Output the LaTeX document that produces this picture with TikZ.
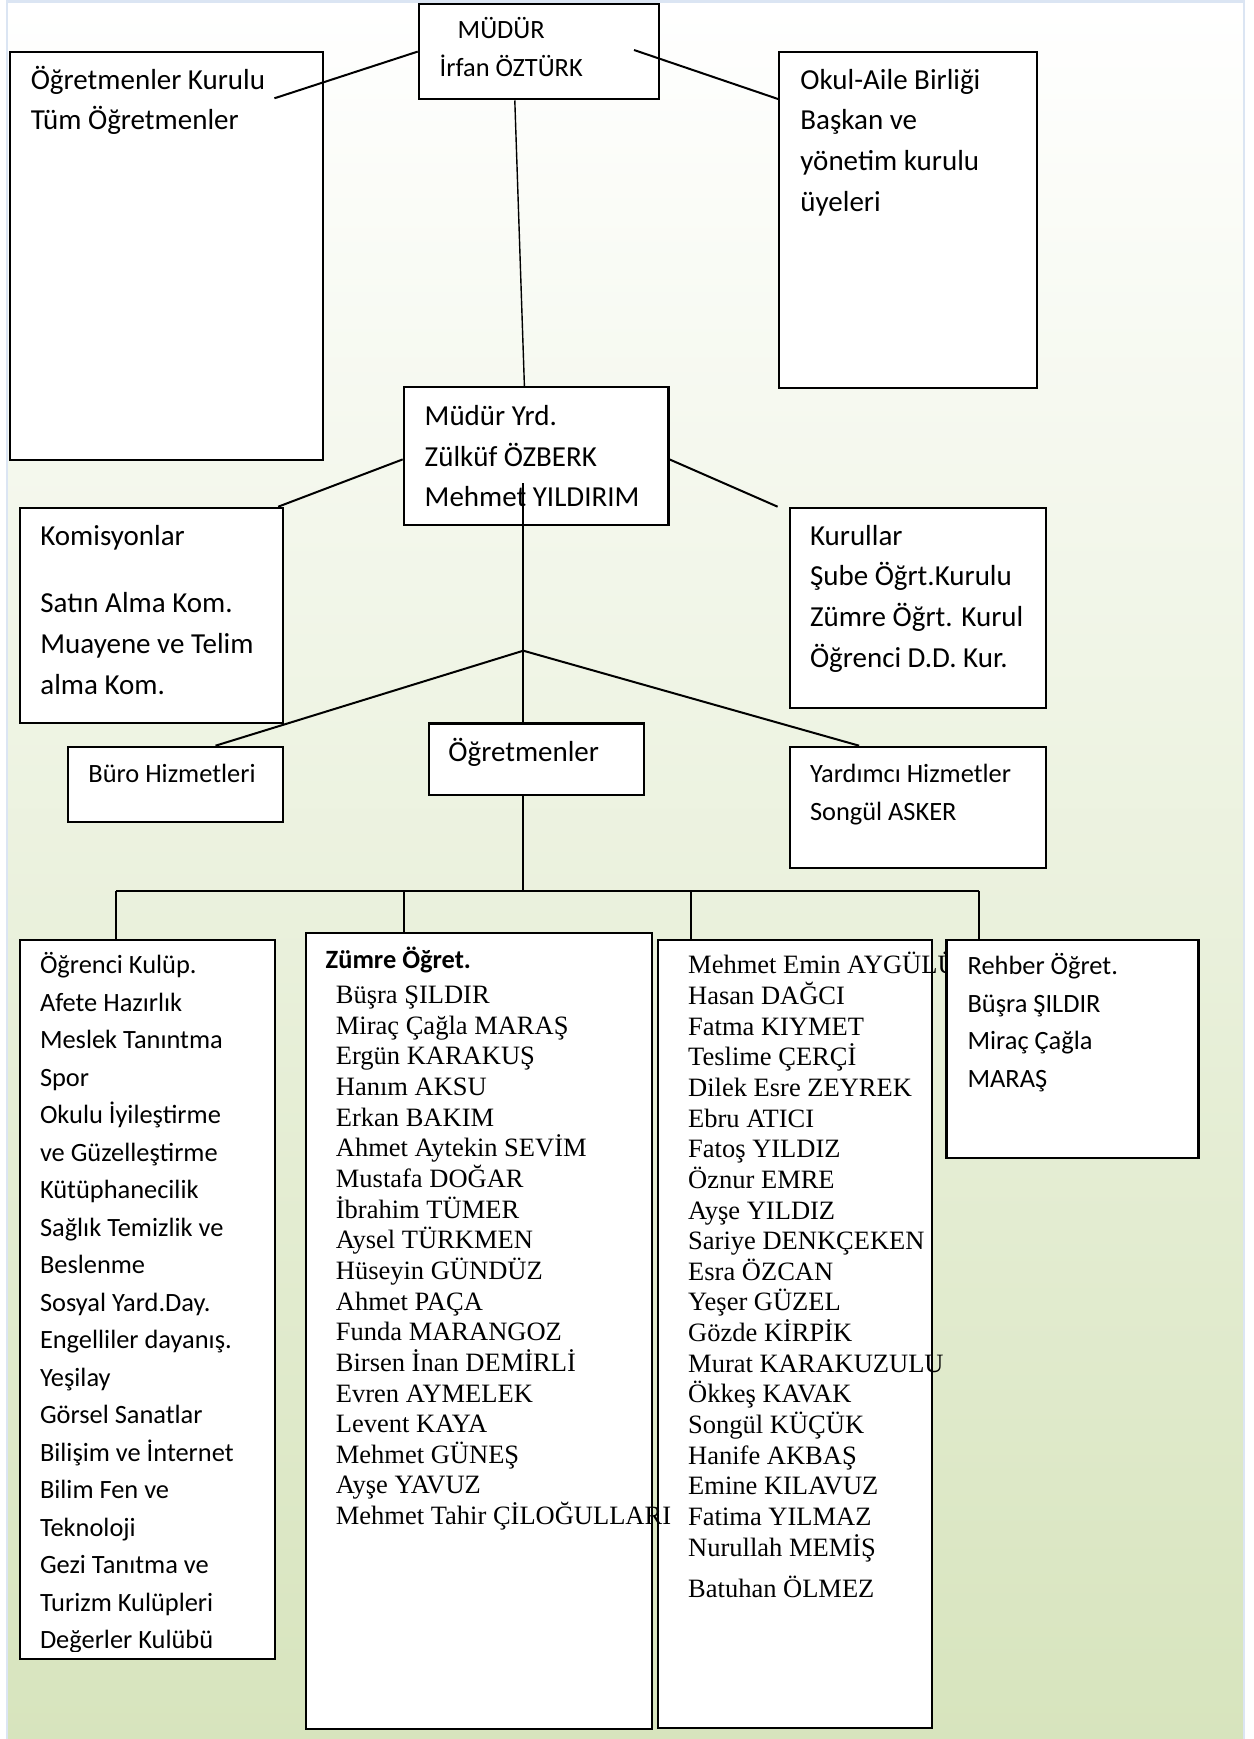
\documentclass[tikz,border=0pt]{standalone}
\usepackage{fontspec}
\setmainfont{Carlito}
\newfontfamily\timesfont{Liberation Serif}
\definecolor{zemin}{RGB}{215,228,189}
\definecolor{cerceve}{RGB}{219,229,243}
\tikzset{
  kutu/.style={draw, fill=white, line width=1.1pt, inner sep=0pt, anchor=north west},
  yazi/.style={anchor=base west, inner sep=0pt, align=left, font=\fontsize{14.5}{20.35}\selectfont},
  kucukyazi/.style={anchor=base west, inner sep=0pt, align=left, font=\fontsize{13.2}{18.75}\selectfont},
  isimyazi/.style={anchor=base west, inner sep=0pt, align=left, font=\timesfont\fontsize{13.25}{15.325}\selectfont},
  hat/.style={line width=1pt}
}
\lineskiplimit=-20pt
\begin{document}
\begin{tikzpicture}[x=0.5pt, y=-0.5pt]
\useasboundingbox (0,0) rectangle (1253,1739);
%zemin
\shade[top color=white, bottom color=zemin] (7,1.5) rectangle (1244,1745);
\draw[cerceve, line width=1.25pt] (7,1745) -- (7,1.5) -- (1244,1.5) -- (1244,1745);
%kutular
\node[kutu, minimum width=120pt, minimum height=47.8pt] (mudur) at (417.7,2.7) {};
\node[kutu, minimum width=156.3pt, minimum height=204.15pt] (kurulu) at (9,50.7) {};
\node[kutu, minimum width=129pt, minimum height=168pt] (okul) at (778,50.7) {};
\node[kutu, minimum width=132.3pt, minimum height=69pt] (yrd) at (402.7,386) {};
\node[kutu, minimum width=131.5pt, minimum height=107.65pt] (komisyon) at (19,506.7) {};
\node[kutu, minimum width=128pt, minimum height=100.15pt] (kurullar) at (789,506.7) {};
\node[kutu, minimum width=107.5pt, minimum height=37.65pt] (buro) at (67,745.7) {};
\node[kutu, minimum width=107.5pt, minimum height=35.85pt] (ogretmen) at (428,722.3) {};
\node[kutu, minimum width=128pt, minimum height=60.5pt] (yardimci) at (789,745.7) {};
\node[kutu, minimum width=127.15pt, minimum height=359.6pt] (kulup) at (19.2,938.8) {};
\node[kutu, minimum width=172.85pt, minimum height=398.25pt] (zumre) at (305,931.5) {};
\node[kutu, minimum width=136.95pt, minimum height=394pt] (isimler) at (657,938.8) {};
% (base = son satir)
\node[isimyazi] (t-isimler) at (687.8,1597.3) {Mehmet Emin AYGÜLÜ\\Hasan DAĞCI\\Fatma KIYMET\\Teslime ÇERÇİ\\Dilek Esre ZEYREK\\Ebru ATICI\\Fatoş YILDIZ\\Öznur EMRE\\Ayşe YILDIZ\\Sariye DENKÇEKEN\\Esra ÖZCAN\\Yeşer GÜZEL\\Gözde KİRPİK\\Murat KARAKUZULU\\Ökkeş KAVAK\\Songül KÜÇÜK\\Hanife AKBAŞ\\Emine KILAVUZ\\Fatima YILMAZ\\Nurullah MEMİŞ\\[5.25pt]Batuhan ÖLMEZ};
\node[kutu, minimum width=125.95pt, minimum height=108.9pt] (rehber) at (945.4,938.8) {};
%baglantilar
\coordinate (kurulu-ic) at (274.4,98.3);
\coordinate (mudur-ic) at (634,50);
\coordinate (okul-sol) at (778,99);
\coordinate (yrd-ic) at (523.3,483.3);
\coordinate (dal) at (523.3,650.7);
\coordinate (b1) at (116,890.7);
\coordinate (b2) at (404,890.7);
\coordinate (b3) at (691,890.7);
\coordinate (b4) at (979,890.7);
\draw[hat] (kurulu-ic) -- (mudur.west);
\draw[hat] (mudur-ic) -- (okul-sol);
\draw[hat, line width=0.7pt] ([xshift=-12pt]mudur.south) -- ([xshift=-5.85pt]yrd.north);
\draw[hat] ([yshift=-1.65pt]yrd.west) -- ([xshift=-3pt]komisyon.north east);
\draw[hat] ([yshift=-1.65pt]yrd.east) -- ([xshift=-5.7pt]kurullar.north west);
\draw[hat] (yrd-ic) -- (dal) -- (dal |- ogretmen.north);
\draw[hat] ([xshift=19.95pt]buro.north) -- (dal) -- ([xshift=-29.5pt]yardimci.north);
\draw[hat] (dal |- ogretmen.south) -- (dal |- b1);
\draw[hat] (b1) -- (b4);
\foreach \b/\k in {b1/kulup, b2/zumre, b3/isimler, b4/rehber}
  \draw[hat] (\b) -- (\b |- \k.north);
%yazilar (base = son satir)
\node[kucukyazi] (t-mudur) at (439.3,76.3) {\hspace*{9pt}MÜDÜR\\İrfan ÖZTÜRK};
\node[yazi] (t-kurulu) at (30.4,130) {Öğretmenler Kurulu\\Tüm Öğretmenler};
\node[yazi] (t-okul) at (800,211.4) {Okul-Aile Birliği\\Başkan ve\\yönetim kurulu\\üyeleri};
\node[yazi] (t-yrd) at (424.3,506.7) {Müdür Yrd.\\Zülküf ÖZBERK\\Mehmet YILDIRIM};
\node[yazi] (t-komisyon) at (40,694.3) {Komisyonlar\\[13.15pt]Satın Alma Kom.\\Muayene ve Telim\\alma Kom.};
\node[yazi] (t-kurullar) at (809.6,667.3) {Kurullar\\Şube Öğrt.Kurulu\\Zümre Öğrt. Kurul\\Öğrenci D.D. Kur.};
\node[kucukyazi] (t-buro) at (88,782.7) {Büro Hizmetleri};
\node[yazi] (t-ogretmen) at (448,761) {Öğretmenler};
\node[kucukyazi] (t-yardimci) at (809.6,820.2) {Yardımcı Hizmetler\\Songül ASKER};
\begin{scope}
  \clip (19.2,938.8) rectangle (273.5,1651);
  \node[kucukyazi] (t-kulup) at (39.6,1648.8) {Öğrenci Kulüp.\\Afete Hazırlık\\Meslek Tanıntma\\Spor\\Okulu İyileştirme\\ve Güzelleştirme\\Kütüphanecilik\\Sağlık Temizlik ve\\Beslenme\\Sosyal Yard.Day.\\Engelliler dayanış.\\Yeşilay\\Görsel Sanatlar\\Bilişim ve İnternet\\Bilim Fen ve\\Teknoloji\\Gezi Tanıtma ve\\Turizm Kulüpleri\\Değerler Kulübü};
\end{scope}
\node[kucukyazi, font=\fontsize{13.2}{18.75}\selectfont\bfseries] (t-zumre) at (325.3,968) {Zümre Öğret.};
\node[isimyazi] (t-zumre-isim) at (335.5,1524.6) {Büşra ŞILDIR\\Miraç Çağla MARAŞ\\Ergün KARAKUŞ\\Hanım AKSU\\Erkan BAKIM\\Ahmet Aytekin SEVİM\\Mustafa DOĞAR\\İbrahim TÜMER\\Aysel TÜRKMEN\\Hüseyin GÜNDÜZ\\Ahmet PAÇA\\Funda MARANGOZ\\Birsen İnan DEMİRLİ\\Evren AYMELEK\\Levent KAYA\\Mehmet GÜNEŞ\\Ayşe YAVUZ\\Mehmet Tahir ÇİLOĞULLARI};
\node[kucukyazi] (t-rehber) at (967.2,1087.3) {Rehber Öğret.\\Büşra ŞILDIR\\Miraç Çağla\\MARAŞ};
\end{tikzpicture}
\end{document}
